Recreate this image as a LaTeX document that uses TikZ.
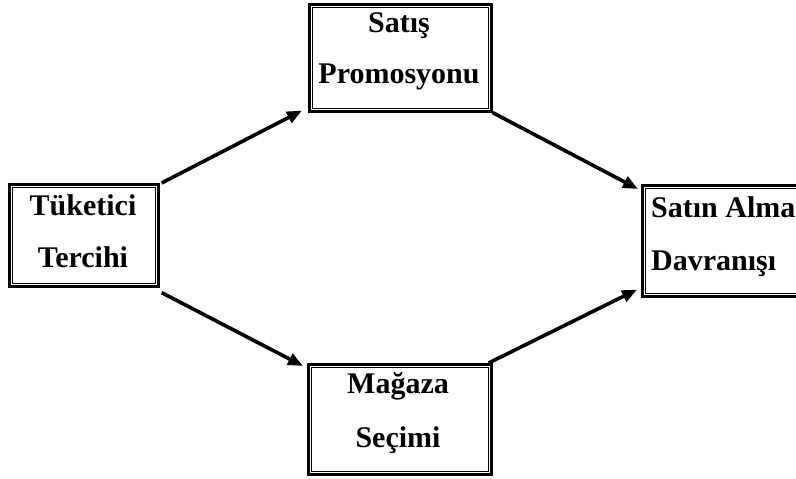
\documentclass[tikz,border=0pt]{standalone}
\usepackage{fontspec}
\setmainfont{Liberation Serif}
\usetikzlibrary{arrows.meta}
\begin{document}
\begin{tikzpicture}[x=1pt,y=-1pt,
  box/.style={draw, line width=2.6pt, rectangle, inner sep=0pt, anchor=north west},
  inner/.style={line width=1pt},
  lbl/.style={font=\bfseries\fontsize{30}{34}\selectfont, inner sep=0pt},
  link/.style={line width=3.6pt, -{Triangle[length=15pt,width=12pt]}}]
\useasboundingbox (0,0) rectangle (796,479);
\clip (0,0) rectangle (796,479);

% boxes
\node[box, minimum width=149pt, minimum height=102pt] (tuk) at (8,183) {};
\node[box, minimum width=182pt, minimum height=107pt] (sat) at (308,3) {};
\node[box, minimum width=165pt, minimum height=111pt] (alm) at (641,184) {};
\node[box, minimum width=183pt, minimum height=110pt] (mag) at (307,363) {};

% thin inner frame of each box
\foreach \b in {tuk,sat,alm,mag}
  \draw[inner] ([shift={(4pt,-4pt)}]\b.north west) rectangle ([shift={(-4pt,4pt)}]\b.south east);

% labels
\node[lbl, anchor=base] (tuk1) at (83,215) {Tüketici};
\node[lbl, anchor=base] (tuk2) at (83,267) {Tercihi};
\node[lbl, anchor=base] (sat1) at (399,32) {Satış};
\node[lbl, anchor=base] (sat2) at (399,83) {Promosyonu};
\node[lbl, anchor=base west] (alm1) at (651,217) {Satın Alma};
\node[lbl, anchor=base west] (alm2) at (651,270) {Davranışı};
\node[lbl, anchor=base] (mag1) at (398,393) {Mağaza};
\node[lbl, anchor=base] (mag2) at (398,447) {Seçimi};

% connectors
\draw[link] ([xshift=2pt]tuk.north east) -- ([xshift=-6pt,yshift=2pt]sat.south west);
\draw[link] (sat.south east) -- ([xshift=-3pt,yshift=-5pt]alm.north west);
\draw[link] ([xshift=2pt,yshift=-5pt]tuk.south east) -- ([xshift=-4pt,yshift=-3pt]mag.north west);
\draw[link] ([xshift=-4pt]mag.north east) -- ([xshift=-4pt,yshift=8pt]alm.south west);
\end{tikzpicture}
\end{document}
